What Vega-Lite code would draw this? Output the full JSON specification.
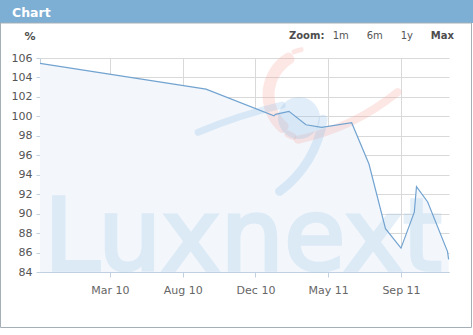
{
  "$schema": "https://vega.github.io/schema/vega-lite/v6.json",
  "width": 409,
  "height": 214,
  "autosize": {"type": "none"},
  "padding": {"left": 40, "top": 58, "right": 24, "bottom": 63},
  "background": "white",
  "config": {"view": {"stroke": null}, "font": "DejaVu Sans"},
  "layer": [
    {
      "data": {"values": [{}]},
      "mark": {"type": "rect", "x": -40, "x2": 433, "y": -58, "y2": -35, "fill": "#7DAED4"},
      "encoding": {}
    },
    {
      "data": {"values": [{}]},
      "mark": {"type": "rect", "x": -39.5, "x2": 431.5, "y": -35, "y2": 269.5, "fill": null, "stroke": "#A5AFB6", "strokeWidth": 1},
      "encoding": {}
    },
    {
      "data": {"values": [{"label": "Chart"}]},
      "mark": {"type": "text", "x": -28, "y": -41.3, "align": "left", "baseline": "alphabetic", "fontSize": 12.5, "fontWeight": "bold", "color": "white"},
      "encoding": {"text": {"field": "label"}}
    },
    {
      "data": {"values": [{"label": "Zoom:"}]},
      "mark": {"type": "text", "x": 249, "y": -19, "align": "left", "baseline": "alphabetic", "fontSize": 10, "fontWeight": "bold", "color": "#4D4D4D"},
      "encoding": {"text": {"field": "label"}}
    },
    {
      "data": {"values": [{"label": "1m"}]},
      "mark": {"type": "text", "x": 292.7, "y": -19, "align": "left", "baseline": "alphabetic", "fontSize": 10, "color": "#555555"},
      "encoding": {"text": {"field": "label"}}
    },
    {
      "data": {"values": [{"label": "6m"}]},
      "mark": {"type": "text", "x": 326.7, "y": -19, "align": "left", "baseline": "alphabetic", "fontSize": 10, "color": "#555555"},
      "encoding": {"text": {"field": "label"}}
    },
    {
      "data": {"values": [{"label": "1y"}]},
      "mark": {"type": "text", "x": 360.7, "y": -19, "align": "left", "baseline": "alphabetic", "fontSize": 10, "color": "#555555"},
      "encoding": {"text": {"field": "label"}}
    },
    {
      "data": {"values": [{"label": "Max"}]},
      "mark": {"type": "text", "x": 390.7, "y": -19, "align": "left", "baseline": "alphabetic", "fontSize": 10, "fontWeight": "bold", "color": "#4D4D4D"},
      "encoding": {"text": {"field": "label"}}
    },
    {
      "data": {
        "values": [
          {"period": 0.038, "value": 105.45},
          {"period": 2.32, "value": 102.8},
          {"period": 3.254, "value": 100.05},
          {"period": 3.275, "value": 100.2},
          {"period": 3.46, "value": 100.52},
          {"period": 3.694, "value": 99.14},
          {"period": 3.91, "value": 98.87},
          {"period": 4.322, "value": 99.35},
          {"period": 4.56, "value": 95.1},
          {"period": 4.787, "value": 88.45},
          {"period": 5.0, "value": 86.45},
          {"period": 5.183, "value": 90.15},
          {"period": 5.213, "value": 92.77},
          {"period": 5.367, "value": 91.2},
          {"period": 5.64, "value": 86.1},
          {"period": 5.655, "value": 85.3}
        ]
      },
      "encoding": {
        "x": {
          "field": "period", "type": "quantitative",
          "scale": {"domain": [0.038, 5.66], "nice": false, "zero": false},
          "axis": {
            "values": [1, 2, 3, 4, 5],
            "labelExpr": "['', 'Mar 10', 'Aug 10', 'Dec 10', 'May 11', 'Sep 11'][datum.value]",
            "title": null, "labelOverlap": false,
            "grid": true, "gridColor": "#D9D9D9", "gridWidth": 1,
            "domainColor": "#C0D0E0", "tickColor": "#C0D0E0", "tickSize": 5,
            "labelFontSize": 11, "labelColor": "#666666", "labelPadding": 7,
            "labelFont": "DejaVu Sans"
          }
        },
        "y": {
          "field": "value", "type": "quantitative",
          "scale": {"domain": [84, 106], "nice": false, "zero": false},
          "axis": {
            "values": [84, 86, 88, 90, 92, 94, 96, 98, 100, 102, 104, 106],
            "labelOverlap": false,
            "title": "%", "titleAngle": 0, "titleX": -10.5, "titleY": -19,
            "titleAlign": "center", "titleBaseline": "alphabetic",
            "titleFontWeight": "bold", "titleFontSize": 11, "titleColor": "#4D4D4D",
            "titleFont": "DejaVu Sans",
            "grid": true, "gridColor": "#D9D9D9", "gridWidth": 1,
            "domainColor": "#C0D0E0", "tickColor": "#C0D0E0", "tickSize": 4,
            "labelFontSize": 11, "labelColor": "#555555", "labelPadding": 4,
            "labelFont": "DejaVu Sans"
          }
        }
      },
      "layer": [
        {
          "mark": {"type": "area", "color": "#F3F7FC", "opacity": 1},
          "encoding": {"y2": {"datum": 84}}
        },
        {
          "data": {"values": [{"label": "Luxnext"}]},
          "mark": {"type": "text", "align": "left", "baseline": "alphabetic", "fontSize": 100, "color": "#A9CDEB", "stroke": "#A9CDEB", "strokeWidth": 3.5, "opacity": 0.3},
          "encoding": {"x": {"value": 4}, "y": {"value": 212}, "text": {"field": "label"}}
        },
        {
          "data": {"values": [{}]},
          "mark": {"type": "arc", "color": "#F4A9A0", "opacity": 0.28, "radius": 49, "radius2": 37, "theta": 3.752, "theta2": 5.847, "cornerRadius": 5},
          "encoding": {"x": {"value": 271.5}, "y": {"value": 37}}
        },
        {
          "data": {"values": [{}]},
          "mark": {"type": "arc", "color": "#F4A9A0", "opacity": 0.28, "radius": 49, "radius2": 44, "theta": 5.847, "theta2": 6.109, "cornerRadius": 2},
          "encoding": {"x": {"value": 271.5}, "y": {"value": 37}}
        },
        {
          "data": {"values": [{}]},
          "mark": {"type": "arc", "color": "#F4A9A0", "opacity": 0.28, "radius": 49, "radius2": 42, "theta": 3.491, "theta2": 3.752, "cornerRadius": 3},
          "encoding": {"x": {"value": 271.5}, "y": {"value": 37}}
        },
        {
          "data": {"values": [{}]},
          "mark": {"type": "arc", "color": "#F4A9A0", "opacity": 0.28, "radius": 240, "radius2": 232, "theta": 2.443, "theta2": 2.95, "cornerRadius": 4},
          "encoding": {"x": {"value": 208.9}, "y": {"value": -149.1}}
        },
        {
          "data": {"values": [{}]},
          "mark": {"type": "arc", "color": "#9CC5E8", "opacity": 0.3, "radius": 505, "radius2": 498, "theta": 5.875, "theta2": 6.065, "cornerRadius": 3.5},
          "encoding": {"x": {"value": 354}, "y": {"value": 536}}
        },
        {
          "data": {"values": [{}]},
          "mark": {"type": "arc", "color": "#9CC5E8", "opacity": 0.3, "radius": 21, "radius2": 0, "theta": 0, "theta2": 6.2832},
          "encoding": {"x": {"value": 259}, "y": {"value": 60}}
        },
        {
          "data": {"values": [{}]},
          "mark": {"type": "arc", "color": "#9CC5E8", "opacity": 0.3, "radius": 114, "radius2": 105, "theta": 1.676, "theta2": 2.548, "cornerRadius": 4.5},
          "encoding": {"x": {"value": 174.75}, "y": {"value": 45.25}}
        },
        {
          "mark": {"type": "line", "color": "#72A3D0", "strokeWidth": 1.2}
        }
      ]
    }
  ]
}
